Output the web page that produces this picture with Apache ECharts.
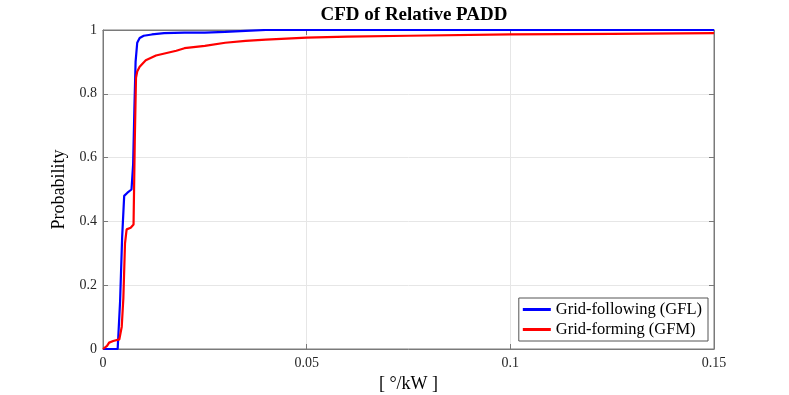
<!DOCTYPE html>
<html>
<head>
<meta charset="utf-8">
<script src="https://cdn.jsdelivr.net/npm/echarts@6/dist/echarts.min.js"></script>
<style>
  html, body { margin: 0; padding: 0; background: #fff; }
  #chart { width: 789px; height: 395px; }
</style>
</head>
<body>
<div id="chart"></div>
<script>
// values
const gflX = [0, 0.0036, 0.0042, 0.0047, 0.0052, 0.0060, 0.0070, 0.0074, 0.0077, 0.0080, 0.0084, 0.0090, 0.0100, 0.0120, 0.0150, 0.020, 0.025, 0.030, 0.035, 0.040, 0.15];
const gflY = [0, 0, 0.15, 0.35, 0.48, 0.49, 0.50, 0.58, 0.75, 0.90, 0.96, 0.975, 0.982, 0.986, 0.99, 0.992, 0.992, 0.994, 0.997, 1.0, 1.0];

const gfmX = [0, 0.001, 0.0015, 0.0025, 0.0040, 0.0046, 0.0050, 0.0054, 0.0058, 0.0068, 0.0075, 0.0078, 0.0081, 0.0084, 0.0090, 0.0105, 0.013, 0.018, 0.020, 0.025, 0.030, 0.035, 0.040, 0.050, 0.060, 0.075, 0.10, 0.125, 0.15];
const gfmY = [0, 0.01, 0.02, 0.025, 0.03, 0.07, 0.16, 0.33, 0.375, 0.38, 0.39, 0.65, 0.85, 0.87, 0.885, 0.905, 0.92, 0.935, 0.943, 0.95, 0.96, 0.966, 0.970, 0.976, 0.979, 0.982, 0.986, 0.988, 0.99];

const seriesNames = ['Grid-following (GFL)', 'Grid-forming (GFM)'];
const xTicks = [0, 0.05, 0.1, 0.15];

const font = 'Liberation Serif';
const axisColor = '#7a7a7a';
const labelColor = '#262626';

const chart = echarts.init(document.getElementById('chart'));

function pairs(xs, ys) {
    return xs.map((x, i) => [x, ys[i]]);
}

const fmtX = v => (xTicks.includes(+v.toFixed(4)) ? String(+v.toFixed(4)) : '');
const tick = { show: true, inside: true, length: 5, lineStyle: { color: axisColor } };
const line = { show: true, onZero: false, lineStyle: { color: axisColor } };

chart.setOption({
    animation: false,
    backgroundColor: '#fff',
    title: {
        text: 'CFD of Relative PADD',
        left: 409,
        textAlign: 'center',
        top: 1,
        textStyle: { fontFamily: font, fontWeight: 'bold', fontSize: 19, color: '#000' }
    },
    grid: {
        left: 103, right: 75, top: 30, bottom: 46,
        outerBoundsMode: 'none',
        show: true, borderColor: axisColor, borderWidth: 1
    },
    legend: {
        orient: 'vertical',
        right: 81,
        bottom: 54,
        itemWidth: 28,
        itemHeight: 3,
        itemGap: 3,
        padding: [3, 6, 3, 4],
        backgroundColor: '#fff',
        borderColor: '#555',
        borderWidth: 1,
        icon: 'rect',
        textStyle: { fontFamily: font, fontSize: 16.5, color: '#000' },
        data: seriesNames
    },
    xAxis: [{
        type: 'value',
        min: 0, max: 0.15, interval: 0.05,
        name: '[ °/kW ]',
        nameLocation: 'middle',
        nameGap: 26,
        nameTextStyle: { fontFamily: font, fontSize: 18, color: '#000' },
        axisLine: line,
        axisTick: tick,
        axisLabel: { fontFamily: font, fontSize: 14, color: labelColor, margin: 7, formatter: fmtX },
        splitLine: { show: true, lineStyle: { color: '#e6e6e6' } }
    }, {
        type: 'value', position: 'top',
        min: 0, max: 0.15, interval: 0.05,
        axisLine: line,
        axisTick: tick,
        axisLabel: { show: false },
        splitLine: { show: false }
    }],
    yAxis: [{
        type: 'value',
        min: 0, max: 1, interval: 0.2,
        name: 'Probability',
        nameLocation: 'middle',
        nameGap: 30,
        nameTextStyle: { fontFamily: font, fontSize: 18, color: '#000' },
        axisLine: line,
        axisTick: tick,
        axisLabel: { fontFamily: font, fontSize: 14, color: labelColor, margin: 6, formatter: v => String(+v.toFixed(1)) },
        splitLine: { show: true, lineStyle: { color: '#e6e6e6' } }
    }, {
        type: 'value', position: 'right',
        min: 0, max: 1, interval: 0.2,
        axisLine: line,
        axisTick: tick,
        axisLabel: { show: false },
        splitLine: { show: false }
    }],
    series: [{
        name: seriesNames[0],
        type: 'line',
        showSymbol: false,
        z: 3,
        lineStyle: { color: '#0000ff', width: 2.2 },
        itemStyle: { color: '#0000ff' },
        data: pairs(gflX, gflY)
    }, {
        name: seriesNames[1],
        type: 'line',
        showSymbol: false,
        z: 4,
        lineStyle: { color: '#ff0000', width: 2.2 },
        itemStyle: { color: '#ff0000' },
        data: pairs(gfmX, gfmY)
    }]
});
</script>
</body>
</html>
